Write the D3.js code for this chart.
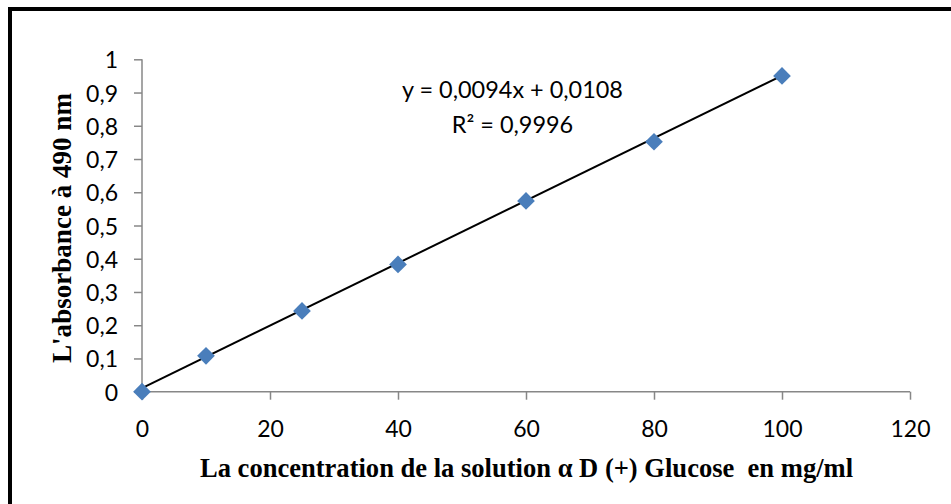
<!DOCTYPE html>
<html>
<head>
<meta charset="utf-8">
<script src="https://cdn.jsdelivr.net/npm/d3@7"></script>
<style>
  html, body { margin: 0; padding: 0; background: #fff; }
  svg { display: block; }
</style>
</head>
<body>
<svg id="chart" width="951" height="504"></svg>
<script>
// ---- Data ----
const concentrations = [0, 10, 25, 40, 60, 80, 100];
const absorbances = [0, 0.108, 0.243, 0.383, 0.574, 0.752, 0.950];
const xTicks = [0, 20, 40, 60, 80, 100, 120];
const yTicks = [0, 0.1, 0.2, 0.3, 0.4, 0.5, 0.6, 0.7, 0.8, 0.9, 1];
const slope = 0.0094;
const intercept = 0.0108;
const equationLines = ["y = 0,0094x + 0,0108", "R² = 0,9996"];
const xTitle = "La concentration de la solution α D (+) Glucose  en mg/ml";
const yTitle = "L'absorbance à 490 nm";

const svg = d3.select("#chart");

// Outer frame
svg.append("rect")
  .attr("x", 10).attr("y", 9)
  .attr("width", 980).attr("height", 540)
  .attr("fill", "none").attr("stroke", "#000").attr("stroke-width", 4);

const x = d3.scaleLinear().domain([0, 120]).range([142, 910]);
const y = d3.scaleLinear().domain([0, 1]).range([391.7, 59.3]);

const fmt = v => String(+v.toFixed(1)).replace(".", ",");
const tickFont = "Lato, 'Open Sans', sans-serif";
const axisColor = "#878787";
const tickSize = 23;

function fit(sel, target, base) {
  const len = sel.node().getComputedTextLength();
  const fs = base * target / len;
  sel.attr("font-size", fs.toFixed(2));
  return fs;
}

// X axis
const gx = svg.append("g").attr("transform", `translate(0,${y(0)})`)
  .call(d3.axisBottom(x).tickValues(xTicks).tickSize(8).tickPadding(6).tickFormat(d => d));
gx.select(".domain").attr("stroke", axisColor).attr("stroke-width", 1.5)
  .attr("d", `M${x(0)},0H${x(120)}`);
gx.selectAll(".tick line").attr("stroke", axisColor).attr("stroke-width", 1.5);
gx.selectAll(".tick text")
  .attr("font-family", tickFont).attr("font-size", tickSize).attr("fill", "#000")
  .attr("dy", null).attr("y", 45.5);

// Y axis
const gy = svg.append("g").attr("transform", `translate(${x(0)},0)`)
  .call(d3.axisLeft(y).tickValues(yTicks).tickSize(8).tickPadding(16).tickFormat(fmt));
gy.select(".domain").attr("stroke", axisColor).attr("stroke-width", 1.5)
  .attr("d", `M0,${y(0)}V${y(1)}`);
gy.selectAll(".tick line").attr("stroke", axisColor).attr("stroke-width", 1.5);
gy.selectAll(".tick text")
  .attr("font-family", tickFont).attr("font-size", tickSize).attr("fill", "#000")
  .attr("dy", null).attr("y", 8.5).attr("x", -24);

// Trendline
const xs = d3.extent(concentrations);
svg.append("line")
  .attr("x1", x(xs[0])).attr("y1", y(slope * xs[0] + intercept))
  .attr("x2", x(xs[1])).attr("y2", y(slope * xs[1] + intercept))
  .attr("stroke", "#000").attr("stroke-width", 2);

// Markers (diamonds)
const diamond = d3.symbol().type(d3.symbolDiamond2).size(200);
svg.append("g").selectAll("path")
  .data(concentrations.map((c, i) => [c, absorbances[i]]))
  .join("path")
  .attr("d", diamond)
  .attr("transform", d => `translate(${x(d[0])},${y(d[1])})`)
  .attr("fill", "#4a7ebb");

// Equation
const eq = svg.append("g").selectAll("text")
  .data(equationLines)
  .join("text")
  .attr("x", 512.5)
  .attr("y", (d, i) => 98 + i * 35)
  .attr("text-anchor", "middle")
  .attr("font-family", tickFont)
  .attr("font-size", 20)
  .attr("fill", "#000")
  .text(d => d);
const eqSize = fit(d3.select(eq.nodes()[0]), 221, 20);
eq.attr("font-size", eqSize.toFixed(2));

// Titles
const titleFont = "'Liberation Serif', 'Times New Roman', serif";
const xt = svg.append("text")
  .attr("x", 526.5).attr("y", 476.5)
  .attr("text-anchor", "middle")
  .attr("font-family", titleFont).attr("font-weight", "bold")
  .attr("font-size", 22).attr("fill", "#000")
  .attr("xml:space", "preserve").style("white-space", "pre")
  .text(xTitle);
fit(xt, 653, 22);

const yt = svg.append("text")
  .attr("transform", "translate(71,228) rotate(-90)")
  .attr("text-anchor", "middle")
  .attr("font-family", titleFont).attr("font-weight", "bold")
  .attr("font-size", 22).attr("fill", "#000")
  .text(yTitle);
fit(yt, 270, 22);
</script>
</body>
</html>
